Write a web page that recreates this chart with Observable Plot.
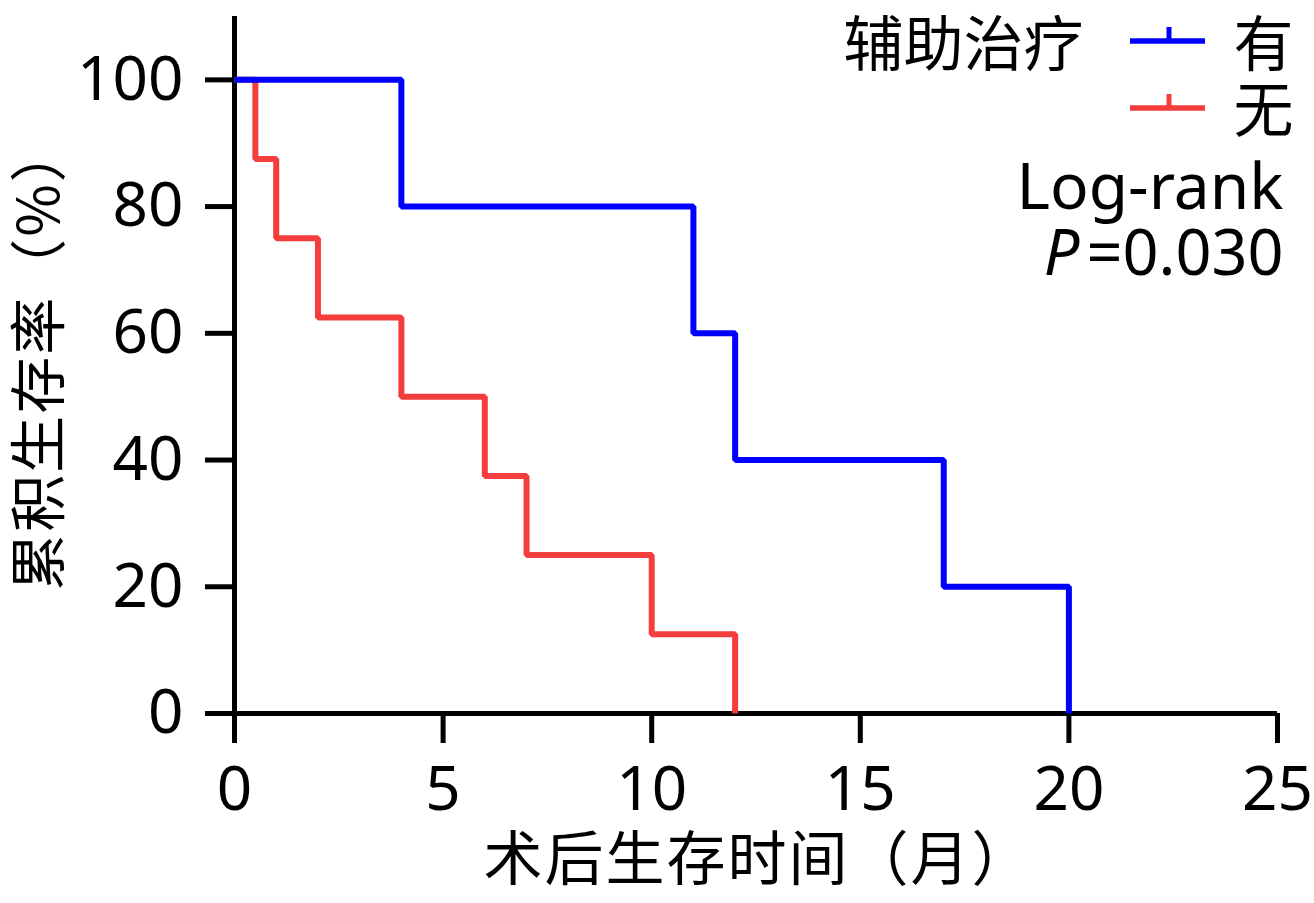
<!DOCTYPE html>
<html>
<head>
<meta charset="utf-8">
<script src="https://cdn.jsdelivr.net/npm/d3@7"></script>
<script src="https://cdn.jsdelivr.net/npm/@observablehq/plot@0.6"></script>
<style>
  html, body { margin: 0; padding: 0; background: #fff; }
  #chart svg { display: block; }
  .lbl text { letter-spacing: 2px; }
</style>
</head>
<body>
<div id="chart"></div>
<script>
// ---- data ----
const timeYes = [0, 4, 11, 12, 17, 20];
const survYes = [100, 80, 60, 40, 20, 0];
const timeNo = [0, 0.5, 1, 2, 4, 6, 7, 10, 12];
const survNo = [100, 87.5, 75, 62.5, 50, 37.5, 25, 12.5, 0];
const xTicks = [0, 5, 10, 15, 20, 25];
const yTicks = [0, 20, 40, 60, 80, 100];
const groupNames = ["有", "无"];
const groupColors = ["#0000ff", "#f43d3d"];
const legendTitle = "辅助治疗";
const xLabel = "术后生存时间（月）";
const yLabel = "累积生存率（%）";
const statLabel = "Log-rank";
const pLetter = "P";
const pValue = "=0.030";

const yesData = timeYes.map((t, i) => ({t, s: survYes[i]}));
const noData = timeNo.map((t, i) => ({t, s: survNo[i]}));

const FONT = "'Noto Sans', 'Noto Sans CJK SC', sans-serif";
const CJK = "'Noto Sans CJK SC', 'Noto Sans', sans-serif";

const legendSymbols = () => {
  const g = d3.create("svg:g");
  const rows = [{y: 41, c: groupColors[0]}, {y: 108, c: groupColors[1]}];
  for (const r of rows) {
    g.append("line").attr("x1", 1130).attr("x2", 1205).attr("y1", r.y).attr("y2", r.y)
      .attr("stroke", r.c).attr("stroke-width", 5.5);
    g.append("line").attr("x1", 1169).attr("x2", 1169).attr("y1", r.y).attr("y2", r.y - 14)
      .attr("stroke", r.c).attr("stroke-width", 5);
  }
  return g.node();
};

const chart = Plot.plot({
  width: 1314,
  height: 903,
  marginLeft: 234,
  marginRight: 37,
  marginTop: 16,
  marginBottom: 190,
  style: {fontFamily: FONT, background: "#fff", color: "#000"},
  x: {domain: [0, 25]},
  y: {domain: [0, 110]},
  marks: [
    Plot.axisX({ticks: xTicks, tickSize: 30, tickPadding: 22, strokeWidth: 5, fontSize: 62, label: null}),
    Plot.axisY({ticks: yTicks, tickSize: 29, tickPadding: 22, strokeWidth: 5, fontSize: 62, label: null}),
    Plot.ruleY([0], {strokeWidth: 5, stroke: "#000"}),
    Plot.ruleX([0], {strokeWidth: 5, stroke: "#000"}),
    Plot.line(noData, {x: "t", y: "s", curve: "step-after", stroke: groupColors[1], strokeWidth: 6, strokeLinejoin: "miter", strokeLinecap: "butt"}),
    Plot.line(yesData, {x: "t", y: "s", curve: "step-after", stroke: groupColors[0], strokeWidth: 6, strokeLinejoin: "miter", strokeLinecap: "butt"}),
    Plot.text([xLabel], {frameAnchor: "bottom", dx: 2, dy: 148, fontSize: 59, fontFamily: CJK, textAnchor: "middle", lineAnchor: "middle", fill: "#000", className: "lbl"}),
    Plot.text([yLabel], {frameAnchor: "left", dx: -194, dy: -8, rotate: -90, fontSize: 57, fontFamily: CJK, textAnchor: "middle", lineAnchor: "middle", fill: "#000", className: "lbl"}),
    Plot.text([legendTitle], {frameAnchor: "top-right", dx: -194, dy: 30, textAnchor: "end", lineAnchor: "middle", fontSize: 60, fontFamily: CJK, fill: "#000"}),
    Plot.text([groupNames[0]], {frameAnchor: "top-right", dx: 16, dy: 30, textAnchor: "end", lineAnchor: "middle", fontSize: 60, fontFamily: CJK, fill: "#000"}),
    Plot.text([groupNames[1]], {frameAnchor: "top-right", dx: 16, dy: 96, textAnchor: "end", lineAnchor: "middle", fontSize: 60, fontFamily: CJK, fill: "#000"}),
    Plot.text([statLabel], {frameAnchor: "top-right", dx: 6, dy: 172, textAnchor: "end", lineAnchor: "middle", fontSize: 64, fill: "#000"}),
    Plot.text([pValue], {frameAnchor: "top-right", dx: 6, dy: 238, textAnchor: "end", lineAnchor: "middle", fontSize: 63, fill: "#000"}),
    Plot.text([pLetter], {frameAnchor: "top-right", dx: -198, dy: 238, textAnchor: "end", lineAnchor: "middle", fontSize: 63, fontStyle: "italic", fill: "#000"}),
    legendSymbols
  ]
});
document.getElementById("chart").append(chart);
</script>
</body>
</html>
